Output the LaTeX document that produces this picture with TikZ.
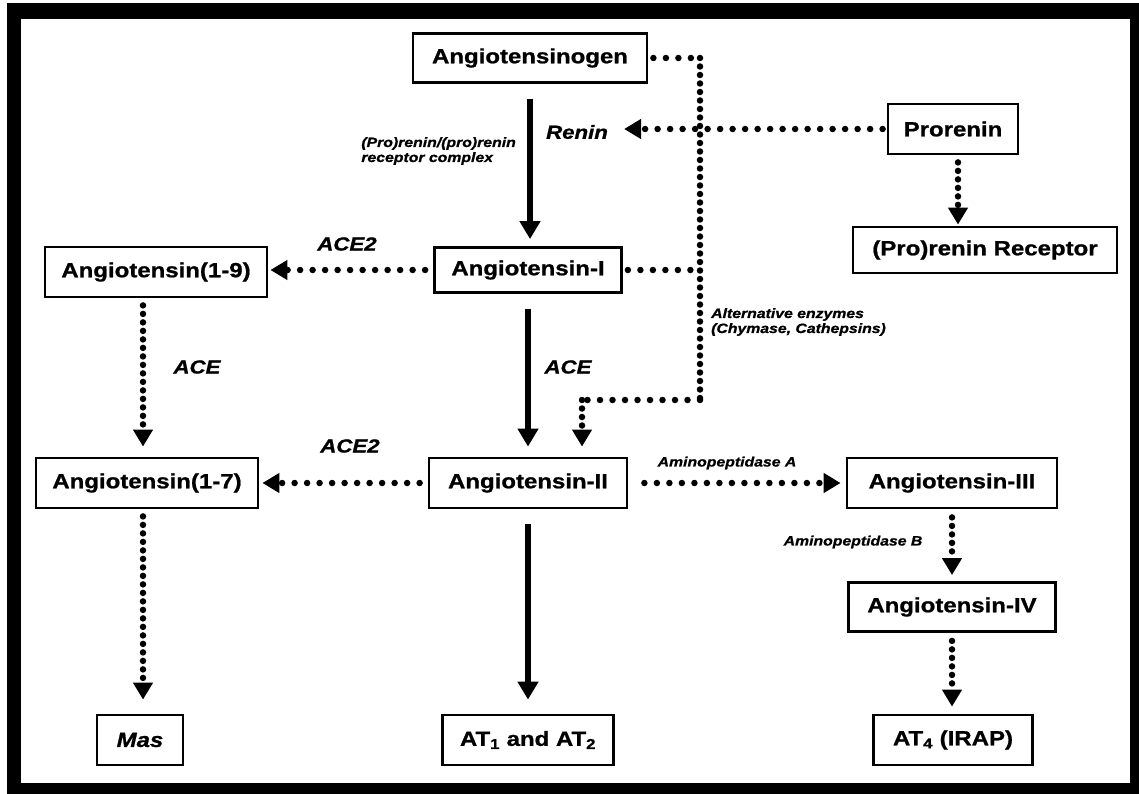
\documentclass[tikz,border=0pt]{standalone}
\usepackage{fontspec}
\setmainfont{Liberation Sans}[FakeStretch=1.17, FakeBold=1]
\usetikzlibrary{arrows.meta}
\newcommand\boxfont{\fontsize{20.5}{24}\selectfont\bfseries}
\newcommand\enzfont{\fontsize{19}{22}\selectfont\bfseries\itshape}
\newcommand\notefont{\fontsize{13.5}{15}\selectfont\bfseries\itshape}

\begin{document}
\begin{tikzpicture}[x=1pt,y=-1pt,
  stepbox/.style={draw, line width=2.8pt, inner sep=0pt, font=\boxfont, fill=white},
  enz/.style={inner sep=0pt, font=\enzfont},
  note/.style={inner sep=0pt, font=\notefont, align=left},
  solidarrow/.style={line width=6pt, -{Triangle[length=18pt,width=20pt]}},
  hdots/.style={line width=6.5pt, line cap=round, dash pattern=on 0pt off 12.5pt},
  vdots/.style={line width=6.5pt, line cap=round, dash pattern=on 0pt off 8.5pt},
  tip/.style={-{Triangle[length=17pt,width=19pt]}}
]
\useasboundingbox (0,0) rectangle (1139,794);
% frame
\fill[white] (0,0) rectangle (1139,794);
\fill[black] (7,3) rectangle (1139,794);
\fill[white] (21,19) rectangle (1130,783);

% boxes
\node[stepbox, minimum width=234pt, minimum height=49pt] (agen) at (530,58) {Angiotensinogen};
\node[stepbox, minimum width=130pt, minimum height=50pt] (prorenin) at (953,129) {Prorenin};
\node[stepbox, minimum width=264pt, minimum height=46pt] (prr) at (985,250) {(Pro)renin Receptor};
\node[stepbox, minimum width=222pt, minimum height=50pt] (ang19) at (156,272) {Angiotensin(1-9)};
\node[stepbox, minimum width=187pt, minimum height=45pt] (angI) at (528,270) {Angiotensin-I};
\node[stepbox, minimum width=222pt, minimum height=50pt] (ang17) at (147,483) {Angiotensin(1-7)};
\node[stepbox, minimum width=198pt, minimum height=50pt] (angII) at (528,483) {Angiotensin-II};
\node[stepbox, minimum width=210pt, minimum height=50pt] (angIII) at (952,483) {Angiotensin-III};
\node[stepbox, minimum width=207pt, minimum height=49pt] (angIV) at (952,607) {Angiotensin-IV};
\node[stepbox, minimum width=86pt, minimum height=50pt] (mas) at (140,740) {\itshape Mas};
\node[stepbox, minimum width=171pt, minimum height=50pt] (at12) at (528,740) {AT\textsubscript{1} and AT\textsubscript{2}};
\node[stepbox, minimum width=159pt, minimum height=50pt] (at4) at (953,740) {AT\textsubscript{4} (IRAP)};

% enzyme labels
\node[enz] (renin) at (577,132) {Renin};
\node[note, anchor=east] (prolab) at (516,151) {(Pro)renin/(pro)renin\\receptor complex};
\node[note, anchor=west] (altlab) at (711,322) {Alternative enzymes\\(Chymase, Cathepsins)};
\node[enz] (ace2a) at (347,244) {ACE2};
\node[enz] (ace2b) at (350,446) {ACE2};
\node[enz] (acea) at (197,367) {ACE};
\node[enz] (aceb) at (568,367) {ACE};
\node[note] (apa) at (727,463) {Aminopeptidase A};
\node[note] (apb) at (853,542) {Aminopeptidase B};

% helper columns and corners
\coordinate (lcol) at (143,0);
\coordinate (rcol) at (958,0);
\coordinate (k1) at (700,58);
\coordinate (k2) at (700,400);
\coordinate (k3) at (582,400);

% main (solid) conversions
\draw[solidarrow, shorten <=15pt, shorten >=7pt] (agen.south) -- (agen.south |- angI.north);
\draw[solidarrow, shorten <=15pt, shorten >=10pt] (angI.south) -- (angII.north);
\draw[solidarrow, shorten <=15pt, shorten >=14pt] (angII.south) -- (at12.north);

% alternative (dotted) pathways
\draw[hdots, tip, shorten <=4pt, shorten >=16pt] (prorenin.west) -- (prorenin.west -| renin.east);
\draw[vdots, tip, shorten <=7pt, shorten >=1pt] (prorenin.south -| rcol) -- (prr.north -| rcol);
\draw[hdots, tip, shorten <=8pt, shorten >=2pt] (angI.west) -- (angI.west -| ang19.east);
\draw[hdots, tip, shorten <=8pt, shorten >=3pt] (angII.west) -- (ang17.east);
\draw[vdots, tip, shorten <=7pt, shorten >=10pt] (ang19.south -| lcol) -- (ang17.north -| lcol);
\draw[vdots, tip, shorten <=7pt, shorten >=14pt] (ang17.south -| lcol) -- (mas.north -| lcol);
\draw[hdots, tip, shorten <=16pt, shorten >=5pt] (angII.east) -- (angIII.west);
\draw[vdots, tip, shorten <=8pt, shorten >=6pt] (angIII.south) -- (angIV.north);
\draw[vdots, tip, shorten <=8pt, shorten >=7pt] (angIV.south) -- (at4.north -| angIV.south);

% chymase / cathepsin route
\draw[hdots, shorten <=5pt] (agen.east) -- (k1);
\draw[vdots] (k1) -- (k2);
\draw[hdots] (k2) -- (k3);
\draw[vdots, tip, shorten >=10pt] (k3) -- (angII.north -| k3);
\draw[hdots, shorten <=5pt] (angI.east) -- (angI.east -| k1);
\end{tikzpicture}
\end{document}
